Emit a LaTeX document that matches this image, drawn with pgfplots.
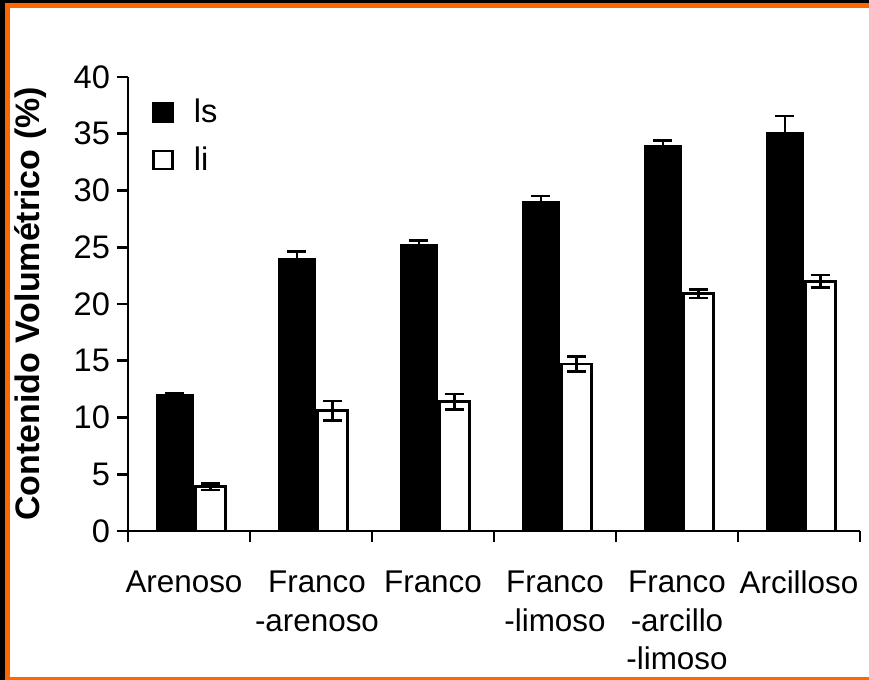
\documentclass[border=0pt]{standalone}
\usepackage{pgfplots}
\pgfplotsset{compat=1.18}
\usepackage{fontspec}
\setmainfont{Liberation Sans}
\definecolor{frameorange}{HTML}{FF6600}
\newcommand\lblfont{\fontsize{15.7pt}{19.3pt}\selectfont}
\newcommand\tickfont{\fontsize{16.3pt}{18.5pt}\selectfont}
\newcommand\ylblfont{\fontsize{17pt}{20pt}\selectfont}
\begin{document}
\begin{tikzpicture}
\fill[white] (-10pt,10pt) rectangle (450pt,-350pt);
\fill[black] (-10pt,10pt) rectangle (450pt,-1.5pt);
\fill[black] (-10pt,10pt) rectangle (2.5pt,-350pt);
\fill[frameorange] (2.5pt,-1.5pt) rectangle (450pt,-4pt);
\fill[frameorange] (2.5pt,-1.5pt) rectangle (5pt,-350pt);
\fill[frameorange] (2.5pt,-338.3pt) rectangle (450pt,-350pt);
\begin{axis}[
  at={(64pt,-265.5pt)}, anchor=south west,
  scale only axis, width=366pt, height=227pt,
  xmin=-0.5, xmax=5.5, ymin=0, ymax=40,
  axis x line=bottom, axis y line=left,
  axis line style={-, line width=1.3pt},
  ytick={0,5,...,40},
  xtick={-0.5,0.5,...,5.5}, xticklabels={},
  extra x ticks={0,1,2,3,4,5},
  extra x tick labels={Arenoso\hspace*{5pt},{\hspace*{6pt}Franco\\\hspace*{6pt}-arenoso},Franco,{Franco\\-limoso},{Franco\\-arcillo\\-limoso},Arcilloso},
  extra x tick style={major tick length=0pt, tick style={draw=none}},
  tick align=outside, major tick length=5.5pt,
  tick style={line width=1.3pt, black},
  /pgf/number format/assume math mode=true,
  yticklabel style={font=\tickfont},
  xticklabel style={align=center, font=\lblfont, yshift=-16.5pt},
  ylabel={\bfseries Contenido Volumétrico (\%)},
  ylabel style={at={(axis description cs:-0.1332,0.5)}, anchor=center, font=\ylblfont},
  ybar=0pt,
  legend style={draw=none, fill=none, at={(axis description cs:0.0245,0.965)}, anchor=north west, font=\tickfont, row sep=8.5pt, nodes={inner sep=1pt}},
  legend cell align=left,
  legend image code/.code={\draw[#1, line width=1.2pt] (0pt,-4.5pt) rectangle (9.5pt,4.5pt); \path[draw=none,fill=none] (0pt,0pt) -- (19.2pt,0pt);},
  error bars/error bar style={line width=1.3pt, black},
  error bars/error mark options={rotate=90, mark size=4.75pt, line width=1.3pt, black},
]
\addplot[fill=black, draw=black, line width=1.3pt, bar width=17.7pt, bar shift=-7pt,
  error bars/.cd, y dir=both, y explicit]
  coordinates {(0,12.0) +- (0,0.1) (1,23.9) +- (0,0.72) (2,25.2) +- (0,0.4) (3,29.0) +- (0,0.5) (4,33.9) +- (0,0.5) (5,35.0) +- (0,1.55)};
\addlegendentry{ls}
\addplot[fill=white, draw=black, line width=1.3pt, bar width=15.2pt, bar shift=10.75pt,
  error bars/.cd, y dir=both, y explicit]
  coordinates {(0,3.9) +- (0,0.3) (1,10.6) +- (0,0.85) (2,11.4) +- (0,0.68) (3,14.7) +- (0,0.66) (4,20.9) +- (0,0.38) (5,22.0) +- (0,0.55)};
\addlegendentry{li}
\end{axis}
\pgfresetboundingbox
\useasboundingbox (0,0) rectangle (434.5pt,-340pt);
\end{tikzpicture}
\end{document}
